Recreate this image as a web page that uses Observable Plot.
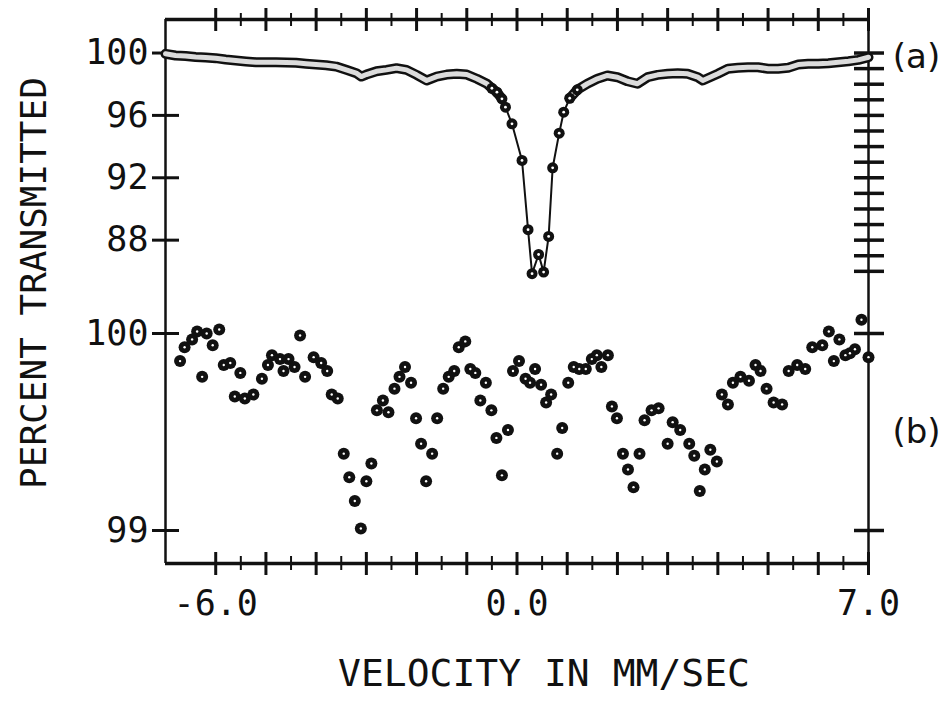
<!DOCTYPE html>
<html><head><meta charset="utf-8">
<script src="https://cdn.jsdelivr.net/npm/d3@7"></script>
<script src="https://cdn.jsdelivr.net/npm/@observablehq/plot@0.6"></script>
<style>
html,body{margin:0;padding:0;background:#fff;}
#wrap{position:relative;width:943px;height:705px;overflow:hidden;background:#fff;}
#ylab{position:absolute;left:33px;top:283px;transform:translate(-50%,-50%) rotate(-90deg);white-space:nowrap;font-family:"DejaVu Sans Mono";font-size:36px;color:#111;}
svg{display:block}
</style></head><body>
<div id="wrap"><div id="panelA"></div><div id="panelB"></div><div id="ylab">PERCENT TRANSMITTED</div></div>
<script>
// ---- data: panel (a) ----
const aVel = [-7.0,-6.8,-6.6,-6.4,-6.2,-6.0,-5.8,-5.6,-5.4,-5.2,-5.0,-4.8,-4.6,-4.4,-4.2,-4.0,-3.8,-3.6,-3.4,-3.2,-3.1,-3.0,-2.8,-2.6,-2.4,-2.2,-2.0,-1.8,-1.6,-1.4,-1.2,-1.0,-0.8,-0.6,-0.5,-0.4,-0.3,-0.23,-0.10,0.10,0.22,0.30,0.43,0.53,0.63,0.71,0.84,0.93,1.05,1.2,1.4,1.6,1.8,2.0,2.2,2.4,2.6,2.8,3.0,3.2,3.4,3.6,3.7,3.8,4.0,4.2,4.4,4.6,4.8,5.0,5.2,5.4,5.6,5.8,6.0,6.2,6.4,6.6,6.8,7.0];
const aPct = [99.95,99.84,99.81,99.74,99.71,99.67,99.58,99.52,99.46,99.41,99.41,99.41,99.39,99.37,99.31,99.26,99.22,99.13,98.92,98.71,98.49,98.62,98.83,98.92,99.03,98.92,98.60,98.24,98.49,98.62,98.67,98.62,98.35,98.03,97.74,97.49,97.06,96.53,95.46,93.11,88.67,85.85,87.08,85.95,88.24,92.64,94.86,96.21,97.10,97.64,98.03,98.35,98.56,98.45,98.19,98.03,98.45,98.60,98.67,98.71,98.67,98.45,98.24,98.38,98.67,98.99,99.05,99.09,99.09,98.99,98.99,99.05,99.26,99.31,99.31,99.35,99.41,99.47,99.56,99.73];

// ---- data: panel (b) ----
const bVel = [-6.71,-6.62,-6.47,-6.37,-6.27,-6.18,-6.06,-5.93,-5.84,-5.71,-5.62,-5.51,-5.42,-5.25,-5.08,-4.96,-4.88,-4.72,-4.65,-4.55,-4.43,-4.32,-4.22,-4.05,-3.90,-3.78,-3.69,-3.57,-3.45,-3.34,-3.23,-3.11,-3.00,-2.90,-2.79,-2.67,-2.56,-2.44,-2.34,-2.23,-2.11,-2.01,-1.91,-1.81,-1.69,-1.59,-1.47,-1.36,-1.25,-1.16,-1.03,-0.93,-0.83,-0.73,-0.62,-0.51,-0.41,-0.30,-0.18,-0.08,0.04,0.17,0.26,0.36,0.48,0.58,0.68,0.80,0.90,1.02,1.13,1.24,1.37,1.49,1.59,1.68,1.81,1.89,1.99,2.11,2.21,2.32,2.44,2.54,2.68,2.82,3.00,3.10,3.25,3.43,3.53,3.64,3.74,3.85,3.98,4.08,4.20,4.30,4.45,4.62,4.75,4.85,4.97,5.11,5.28,5.41,5.58,5.74,5.88,6.08,6.21,6.31,6.42,6.54,6.63,6.73,6.86,7.00];
const bPct = [99.86,99.93,99.97,100.01,99.78,100.00,99.94,100.02,99.84,99.85,99.68,99.80,99.67,99.69,99.77,99.84,99.89,99.87,99.81,99.87,99.83,99.99,99.78,99.88,99.85,99.81,99.69,99.67,99.39,99.27,99.15,99.01,99.25,99.34,99.61,99.66,99.60,99.72,99.78,99.83,99.75,99.57,99.44,99.25,99.39,99.57,99.72,99.78,99.81,99.93,99.96,99.82,99.80,99.66,99.75,99.61,99.47,99.28,99.51,99.81,99.86,99.77,99.75,99.82,99.74,99.65,99.69,99.39,99.52,99.75,99.83,99.82,99.82,99.87,99.89,99.83,99.89,99.63,99.57,99.39,99.31,99.22,99.39,99.56,99.61,99.62,99.44,99.55,99.51,99.44,99.38,99.20,99.31,99.41,99.35,99.69,99.64,99.75,99.78,99.76,99.84,99.81,99.72,99.65,99.64,99.81,99.84,99.82,99.93,99.94,100.01,99.86,99.97,99.89,99.90,99.92,100.07,99.88];

// ---- ticks / labels ----
const xDomain = [-7, 7];
const majorTicks = [-6,-5,-4,-3,-2,-1,0,1,2,3,4,5,6,7];
const minorTicks = [-5.5,-4.5,-3.5,-2.5,-1.5,-0.5,0.5,1.5,2.5,3.5,4.5,5.5,6.5];
const xLabelTicks = [-6, 0, 7];
const aLeftTicks = [100, 96, 92, 88];
const aRightTicks = [100,99,98,97,96,95,94,93,92,91,90,89,88,87,86];
const bTicks = [100, 99];
const aDomain = [84.13, 102.15];
const bDomain = [98.8325, 100.1675];

const topData = aVel.map((v, i) => ({vel: v, pct: aPct[i]}));
const botData = bVel.map((v, i) => ({vel: v, pct: bPct[i]}));

const ink = "#111";
const font = "DejaVu Sans Mono";
const W = 943, mL = 165, mR = 75;
const innerW = W - mL - mR;
const topH = 300, topMT = 19, topInnerH = topH - topMT;
const botH = 405, botMB = 142, botInnerH = botH - botMB;
const plotStyle = {fontFamily: font, color: ink, background: "white", overflow: "visible"};

const plotA = Plot.plot({
  width: W, height: topH, marginLeft: mL, marginRight: mR, marginTop: topMT, marginBottom: 0,
  x: {domain: xDomain, axis: null},
  y: {domain: aDomain},
  style: plotStyle,
  marks: [
    Plot.ruleX(xDomain, {stroke: ink, strokeWidth: 2.5}),
    Plot.ruleY([aDomain[1]], {stroke: ink, strokeWidth: 3.5}),
    Plot.tickX(majorTicks, {x: d => d, stroke: ink, strokeWidth: 3, insetTop: -11, insetBottom: topInnerH - 12}),
    Plot.tickX(minorTicks, {x: d => d, stroke: ink, strokeWidth: 2, insetTop: -6, insetBottom: topInnerH - 7}),
    Plot.tickY(aLeftTicks, {y: d => d, stroke: ink, strokeWidth: 3, insetLeft: -13, insetRight: innerW - 14}),
    Plot.tickY(aRightTicks, {y: d => d, stroke: ink, strokeWidth: 3.5, insetLeft: innerW - 14, insetRight: -16}),
    Plot.axisY(aLeftTicks, {tickSize: 0, tickPadding: 17, fontSize: 35, label: null, tickFormat: d => String(d)}),
    Plot.line(topData, {x: "vel", y: "pct", stroke: ink, strokeWidth: 2}),
    Plot.line(topData, {x: "vel", y: d => d.pct >= 97 ? d.pct : NaN, stroke: ink, strokeWidth: 10}),
    Plot.line(topData, {x: "vel", y: d => d.pct >= 97 ? d.pct : NaN, stroke: "#dcdcdc", strokeWidth: 5}),
    Plot.dot(topData, {filter: d => d.pct < 97.8, x: "vel", y: "pct", r: 5.5, fill: ink}),
    Plot.dot(topData, {filter: d => d.pct < 97.8, x: "vel", y: "pct", r: 1.4, fill: "white"}),
    Plot.text(["(a)"], {frameAnchor: "top-right", dx: 48, dy: 38, lineAnchor: "middle", fontSize: 34, fontFamily: "DejaVu Sans", textAnchor: "middle", fill: ink})
  ]
});
document.getElementById("panelA").appendChild(plotA);

const plotB = Plot.plot({
  width: W, height: botH, marginLeft: mL, marginRight: mR, marginTop: 0, marginBottom: botMB,
  x: {domain: xDomain},
  y: {domain: bDomain},
  style: plotStyle,
  marks: [
    Plot.ruleX(xDomain, {stroke: ink, strokeWidth: 2.5}),
    Plot.ruleY([bDomain[0]], {stroke: ink, strokeWidth: 3.5}),
    Plot.tickX(majorTicks, {x: d => d, stroke: ink, strokeWidth: 3, insetTop: botInnerH - 11, insetBottom: -12}),
    Plot.tickX(minorTicks, {x: d => d, stroke: ink, strokeWidth: 2, insetTop: botInnerH - 7, insetBottom: -7}),
    Plot.tickY(bTicks, {y: d => d, stroke: ink, strokeWidth: 3, insetLeft: -13, insetRight: innerW - 14}),
    Plot.tickY(bTicks, {y: d => d, stroke: ink, strokeWidth: 3.5, insetLeft: innerW - 14, insetRight: -16}),
    Plot.axisX(xLabelTicks, {tickSize: 0, tickPadding: 27, fontSize: 35, label: null, tickFormat: d => d.toFixed(1)}),
    Plot.axisY(bTicks, {tickSize: 0, tickPadding: 17, fontSize: 35, label: null, tickFormat: d => String(d)}),
    Plot.dot(botData, {x: "vel", y: "pct", r: 6, fill: ink}),
    Plot.dot(botData, {x: "vel", y: "pct", r: 1.2, fill: "white"}),
    Plot.text(["(b)"], {frameAnchor: "right", dx: 48, lineAnchor: "middle", fontSize: 34, fontFamily: "DejaVu Sans", textAnchor: "middle", fill: ink}),
    Plot.text(["VELOCITY IN MM/SEC"], {frameAnchor: "bottom", dx: 27, dy: 110, lineAnchor: "middle", fontSize: 38, fill: ink})
  ]
});
document.getElementById("panelB").appendChild(plotB);
</script>
</body></html>
